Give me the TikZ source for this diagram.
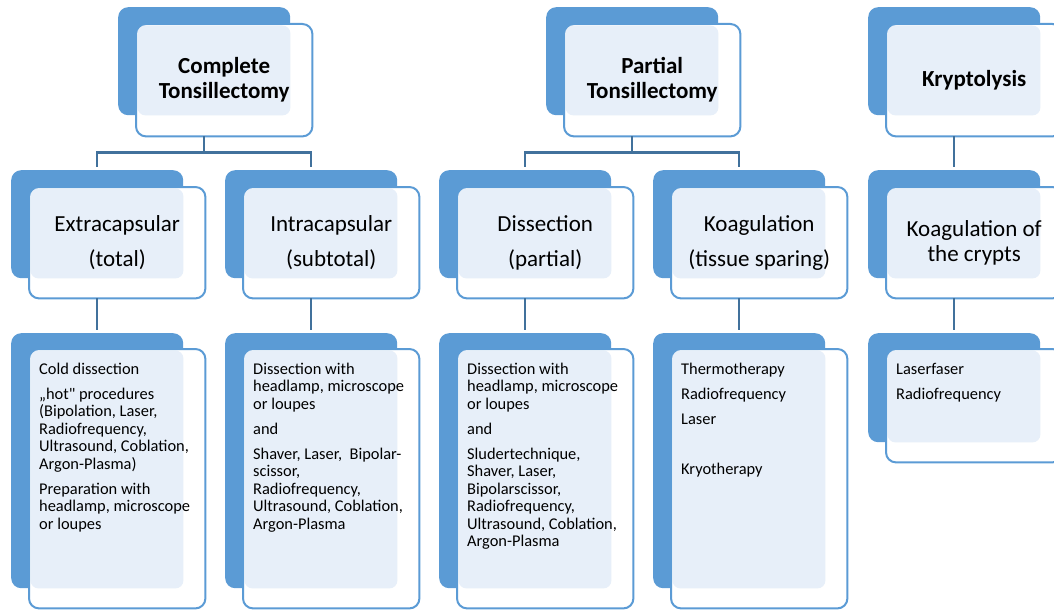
\documentclass[tikz,border=0pt]{standalone}
\usepackage{fontspec}
\setmainfont{Carlito}[Ligatures=TeXOff]
\definecolor{accent}{RGB}{91,155,213}
\definecolor{connc}{RGB}{65,113,156}
\definecolor{patt}{RGB}{231,239,249}
\tikzset{
  backbox/.style={rectangle, rounded corners=10pt, fill=accent, draw=none, anchor=north west, minimum width=172pt, inner sep=0pt},
  frontbox/.style={rectangle, rounded corners=10pt, fill=white, draw=none, anchor=north west, minimum width=176pt, inner sep=0pt},
  frontborder/.style={draw=accent, line width=2pt, rounded corners=10pt},
  pattfill/.style={fill=patt, rounded corners=8pt},
  conn/.style={draw=connc, line width=2.2pt},
  hdr/.style={align=center, font=\fontsize{23}{25}\selectfont\bfseries, inner sep=0pt},
  midtxt/.style={align=center, font=\fontsize{23}{35}\selectfont, inner sep=0pt},
  midtxtb/.style={align=center, font=\fontsize{23}{25}\selectfont, inner sep=0pt},
  listtxt/.style={align=left, anchor=north west, font=\fontsize{16.4}{17.5}\selectfont, inner sep=0pt},
}
% #1 name, #2 x, #3 y of back box, #4 back height, #5 front y offset, #6 front height
\newcommand\tsbox[6]{%
  \node[backbox, minimum height=#4pt] (#1B) at (#2,#3) {};
  \node[frontbox, minimum height=#6pt] (#1) at ({#2+18},{#3+#5}) {};
  \fill[pattfill] ([shift={(1.5pt,-1.5pt)}]#1.north west) rectangle (#1B.south east);
  \draw[frontborder] (#1.north west) rectangle (#1.south east);
}
\begin{document}
\begin{tikzpicture}[x=1pt,y=-1pt]
\useasboundingbox (0,0) rectangle (1054,610);
\clip (0,0) rectangle (1054,610);
% top row
\tsbox{ct}{118}{7}{108}{17}{112}
\tsbox{pt}{546}{7}{108}{17}{112}
\tsbox{kt}{868}{7}{108}{17}{112}
% second row
\tsbox{ex}{11}{170}{108}{17}{111}
\tsbox{in}{225}{170}{108}{17}{111}
\tsbox{di}{439}{170}{108}{17}{111}
\tsbox{ko}{653}{170}{108}{17}{111}
\tsbox{kc}{868}{170}{108}{17}{111}
% third row
\tsbox{ca}{11}{333}{255}{16}{259}
\tsbox{cb}{225}{333}{255}{16}{259}
\tsbox{cc}{439}{333}{255}{16}{259}
\tsbox{cd}{653}{333}{255}{16}{259}
\tsbox{ce}{868}{333}{109}{16}{113}
% connectors
\draw[conn] (ctB.south |- ct.south) -- ++(0,16) -| ([yshift=3pt]exB.north);
\draw[conn] (ctB.south |- ct.south) -- ++(0,16) -| ([yshift=3pt]inB.north);
\draw[conn] (ptB.south |- pt.south) -- ++(0,16) -| ([yshift=3pt]diB.north);
\draw[conn] (ptB.south |- pt.south) -- ++(0,16) -| ([yshift=3pt]koB.north);
\draw[conn] (ktB.south |- kt.south) -- ([yshift=3pt]kcB.north);
\draw[conn] (exB.south |- ex.south) -- ([yshift=3pt]caB.north);
\draw[conn] (inB.south |- in.south) -- ([yshift=3pt]cbB.north);
\draw[conn] (diB.south |- di.south) -- ([yshift=3pt]ccB.north);
\draw[conn] (koB.south |- ko.south) -- ([yshift=3pt]cdB.north);
\draw[conn] (kcB.south |- kc.south) -- ([yshift=3pt]ceB.north);
% texts
\node[hdr] (tct) at (ct.center) {Complete\\Tonsillectomy};
\node[hdr] (tpt) at (pt.center) {Partial\\Tonsillectomy};
\node[hdr] (tkt) at (kt.center) {Kryptolysis};
\node[midtxt] (tex) at (ex.center) {Extracapsular\\(total)};
\node[midtxt] (tin) at (in.center) {Intracapsular\\(subtotal)};
\node[midtxt] (tdi) at (di.center) {Dissection\\(partial)};
\node[midtxt] (tko) at (ko.center) {Koagulation\\(tissue sparing)};
\node[midtxtb] (tkc) at (kc.center) {Koagulation of\\the crypts};
\node[listtxt] (tca) at ([shift={(10pt,-12.75pt)}]ca.north west) {\strut Cold dissection\\[7.5pt]
„hot" procedures\\(Bipolation, Laser,\\Radiofrequency,\\Ultrasound, Coblation,\\Argon-Plasma)\\[7.5pt]
Preparation with\\headlamp, microscope\\or loupes};
\node[listtxt] (tcb) at ([shift={(10pt,-12.75pt)}]cb.north west) {\strut Dissection with\\headlamp, microscope\\or loupes\\[7.5pt]
and\\[7.5pt]
Shaver, Laser,\ \ Bipolar-\\scissor,\\Radiofrequency,\\Ultrasound, Coblation,\\Argon-Plasma};
\node[listtxt] (tcc) at ([shift={(10pt,-12.75pt)}]cc.north west) {\strut Dissection with\\headlamp, microscope\\or loupes\\[7.5pt]
and\\[7.5pt]
Sludertechnique,\\Shaver, Laser,\\Bipolarscissor,\\Radiofrequency,\\Ultrasound, Coblation,\\Argon-Plasma};
\node[listtxt] (tcd) at ([shift={(10pt,-12.75pt)}]cd.north west) {\strut Thermotherapy\\[7.5pt]
Radiofrequency\\[7.5pt]
Laser\\[7.5pt]
~\\[7.5pt]
Kryotherapy};
\node[listtxt] (tce) at ([shift={(10pt,-12.75pt)}]ce.north west) {\strut Laserfaser\\[7.5pt]
Radiofrequency};
\end{tikzpicture}
\end{document}
